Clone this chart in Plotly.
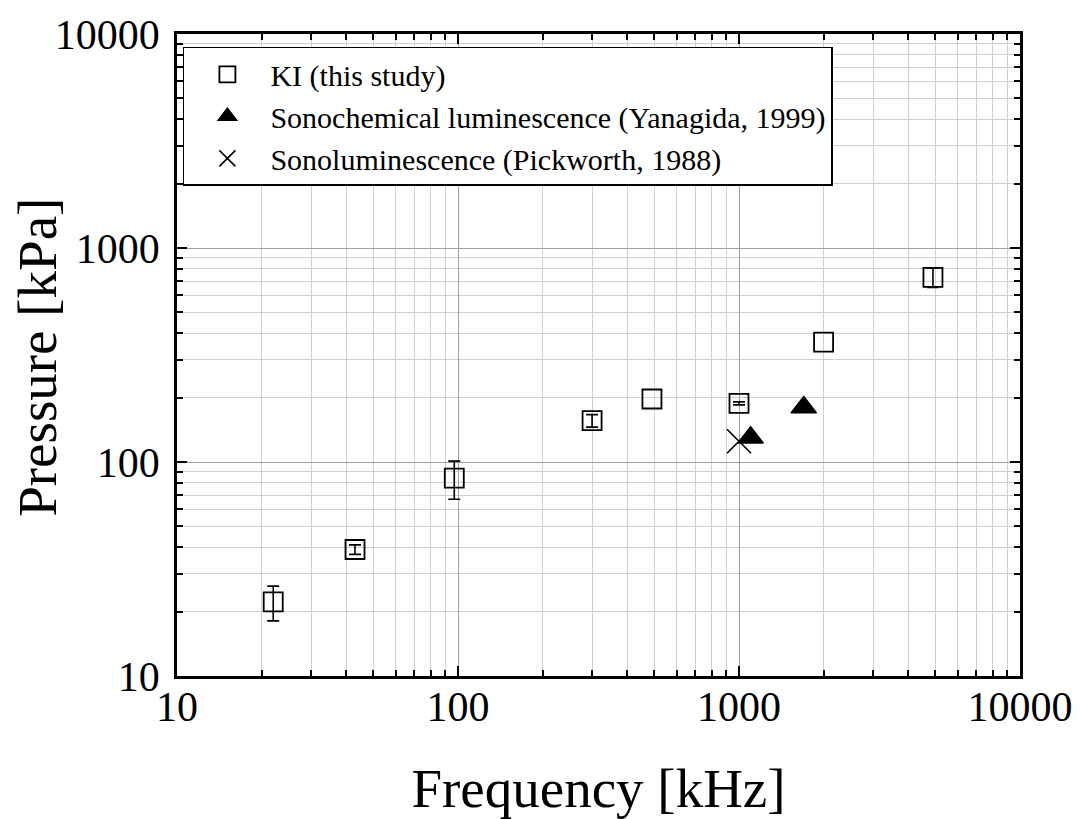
import plotly.graph_objects as go

# KI (this study): frequency [kHz], pressure [kPa], symmetric error [kPa]
# (None = no error bar for that point)
ki_freq = [22, 43, 97, 300, 490, 1000, 2000, 4900]
ki_pressure = [22.2, 39, 84, 156, 197, 188, 363, 729]
ki_error = [4.1, 2, 17, 10.5, None, 3, None, 75]

# Sonochemical luminescence (Yanagida, 1999)
yan_freq = [1100, 1700]
yan_pressure = [130, 180]

# Sonoluminescence (Pickworth, 1988)
pick_freq = [1000]
pick_pressure = [125]

x_tickvals = [10, 100, 1000, 10000]
x_ticktext = ["10", "100", "1000", "10000"]
y_tickvals = [10, 100, 1000, 10000]
y_ticktext = ["10", "100", "1000", "10000"]

SERIF = "Liberation Serif, Times New Roman, serif"

# points that carry an error bar
err_idx = [i for i, e in enumerate(ki_error) if e is not None]
err_freq = [ki_freq[i] for i in err_idx]
err_pressure = [ki_pressure[i] for i in err_idx]
err_values = [ki_error[i] for i in err_idx]

fig = go.Figure()

# error bars only (no visible marker, no legend entry)
fig.add_trace(go.Scatter(
    x=err_freq, y=err_pressure, mode="markers",
    showlegend=False, hoverinfo="skip",
    marker=dict(size=1, color="rgba(0,0,0,0)"),
    error_y=dict(type="data", array=err_values, visible=True, color="black", thickness=1.6, width=6),
))

fig.add_trace(go.Scatter(
    x=ki_freq, y=ki_pressure, mode="markers",
    name="KI (this study)",
    marker=dict(symbol="square-open", size=19, color="black", line=dict(width=1.8, color="black")),
))

fig.add_trace(go.Scatter(
    x=yan_freq, y=yan_pressure, mode="markers",
    name="Sonochemical luminescence (Yanagida, 1999)",
    marker=dict(symbol="triangle-up", size=22, color="black", line=dict(width=1.5, color="black")),
))

fig.add_trace(go.Scatter(
    x=pick_freq, y=pick_pressure, mode="markers",
    name="Sonoluminescence (Pickworth, 1988)",
    marker=dict(symbol="x-thin-open", size=24, color="black", line=dict(width=1.6, color="black")),
))

axis_common = dict(
    type="log",
    showline=True, linecolor="black", linewidth=2.5, mirror="allticks",
    ticks="inside", ticklen=10, tickwidth=2, tickcolor="black",
    showgrid=True, gridcolor="#a0a0a0", gridwidth=1,
    zeroline=False,
    tickfont=dict(family=SERIF, size=42, color="black"),
    minor=dict(dtick="D1", ticks="inside", ticklen=6, tickwidth=1.5, tickcolor="black",
               showgrid=True, gridcolor="#d0d0d0", gridwidth=1),
)

fig.update_xaxes(
    **axis_common,
    range=[1, 4],
    tickmode="array", tickvals=x_tickvals, ticktext=x_ticktext,
    ticklabelstandoff=-8,
    title=dict(text="Frequency [kHz]", font=dict(family=SERIF, size=55, color="black"), standoff=40),
)
fig.update_yaxes(
    **axis_common,
    range=[1, 4],
    tickmode="array", tickvals=y_tickvals, ticktext=y_ticktext,
    ticklabelstandoff=6,
)

# vertical axis title
fig.add_annotation(
    text="Pressure [kPa]", textangle=-90,
    xref="paper", yref="paper", x=-0.165, y=0.497,
    xanchor="center", yanchor="middle", showarrow=False,
    font=dict(family=SERIF, size=55, color="black"),
)

fig.update_layout(
    width=1080, height=819,
    margin=dict(l=177, r=60, t=34, b=143, autoexpand=False),
    paper_bgcolor="white", plot_bgcolor="white",
    showlegend=True,
    legend=dict(
        x=0.007, y=0.98, xanchor="left", yanchor="top",
        bgcolor="white", bordercolor="black", borderwidth=1.5,
        font=dict(family=SERIF, size=30, color="black"),
        itemwidth=76,
    ),
)

fig.write_html("out.html")
